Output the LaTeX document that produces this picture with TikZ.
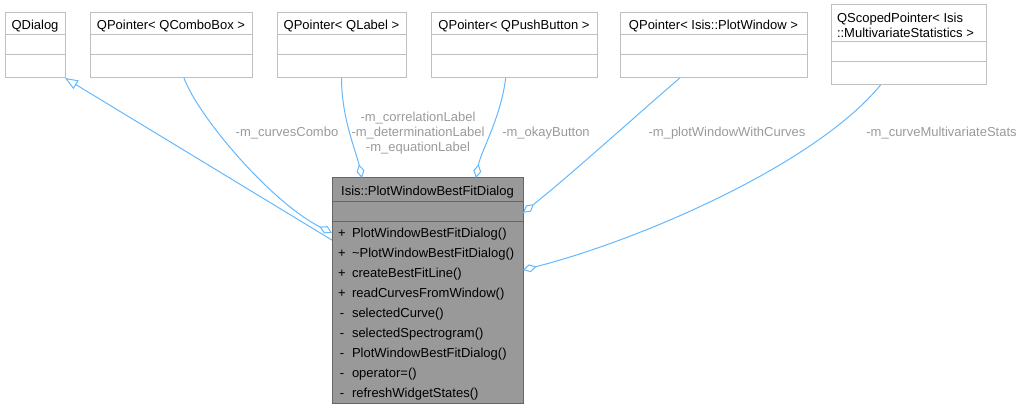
\documentclass[tikz,border=0pt]{standalone}
\usepackage{fontspec}
\setmainfont{Liberation Sans}
\usetikzlibrary{arrows.meta,calc}
\definecolor{edgeblue}{HTML}{63B8FF}
\definecolor{boxgray}{HTML}{BFBFBF}
\definecolor{mainfill}{HTML}{999999}
\definecolor{mainborder}{HTML}{666666}
\definecolor{lblgray}{HTML}{9A9A9A}
\begin{document}
\begin{tikzpicture}[x=1pt,y=-1pt,
  every node/.style={font=\fontsize{13}{15}\selectfont, inner sep=0pt, outer sep=0pt},
  classbox/.style={draw=boxgray, fill=white, line width=1pt, anchor=north west},
  mainbox/.style={draw=mainborder, fill=mainfill, line width=1pt, anchor=north west},
  sepline/.style={draw=boxgray, line width=1pt},
  mainsep/.style={draw=mainborder, line width=1pt},
  txt/.style={anchor=base, text=black},
  ltxt/.style={anchor=base west, text=black},
  lbl/.style={anchor=base, text=lblgray},
  edge/.style={draw=edgeblue, line width=1pt},
  agg/.style={edge, -{Diamond[open, length=14pt, width=8pt]}},
  inh/.style={edge, -{Triangle[open, length=13pt, width=10pt]}}
]
\useasboundingbox (0,0) rectangle (1023,409);

% top classes
\node[classbox, minimum width=60pt, minimum height=65pt] (qdialog) at (5,13) {};
\node[classbox, minimum width=162pt, minimum height=65pt] (qcombo) at (90,13) {};
\node[classbox, minimum width=129pt, minimum height=65pt] (qlabel) at (277,13) {};
\node[classbox, minimum width=166pt, minimum height=65pt] (qpush) at (431,13) {};
\node[classbox, minimum width=187pt, minimum height=65pt] (qplot) at (620,13) {};
\node[classbox, minimum width=155pt, minimum height=80pt] (qscoped) at (831,5) {};

\foreach \a/\b in {5/65, 90/252, 277/406, 431/597, 620/807}{
  \draw[sepline] (\a,35) -- (\b,35);
  \draw[sepline] (\a,55) -- (\b,55);
}
\draw[sepline] (831,42) -- (986,42);
\draw[sepline] (831,62) -- (986,62);

\node[txt] (tqdialog) at (35,30) {QDialog};
\node[txt] (tqcombo) at (171,30) {QPointer< QComboBox >};
\node[txt] (tqlabel) at (341.5,30) {QPointer< QLabel >};
\node[txt] (tqpush) at (514,30) {QPointer< QPushButton >};
\node[txt] (tqplot) at (713.5,30) {QPointer< Isis::PlotWindow >};
\node[ltxt] (tqscoped1) at (837,23) {QScopedPointer< Isis};
\node[ltxt] (tqscoped2) at (837,38) {::MultivariateStatistics >};

% main class
\node[mainbox, minimum width=191pt, minimum height=225pt] (main) at (332,178) {};
\draw[mainsep] (332,201) -- (523,201);
\draw[mainsep] (332,221) -- (523,221);
\node[txt] (tmain) at (427.5,196) {Isis::PlotWindowBestFitDialog};

\foreach \i/\s/\m in {0/+/PlotWindowBestFitDialog(),
                      1/+/\textasciitilde PlotWindowBestFitDialog(),
                      2/+/createBestFitLine(),
                      3/+/readCurvesFromWindow(),
                      4/-/selectedCurve(),
                      5/-/selectedSpectrogram(),
                      6/-/PlotWindowBestFitDialog(),
                      7/-/operator=(),
                      8/-/refreshWidgetStates()}{
  \node[txt] (sg\i) at (342,237+20*\i) {\s};
  \node[ltxt] (mb\i) at (352,237+20*\i) {\m};
}

% connectors
\draw[inh] ($(main.north west)!0.276!(main.south west)$) -- (qdialog.south east);

\draw[agg] ($(qcombo.south west)!0.58!(qcombo.south east)$)
  .. controls +(15,40) and +(-60,-30) .. ($(main.north west)!0.244!(main.south west)$);

\draw[agg] (qlabel.south)
  .. controls +(0,40) and +(-6,-27) .. ($(main.north west)!0.157!(main.north east)$);

\draw[agg] ($(qpush.south west)!0.45!(qpush.south east)$)
  .. controls +(-5,40) and +(5,-27) .. ($(main.north west)!0.754!(main.north east)$);

\draw[agg] ($(qplot.south west)!0.32!(qplot.south east)$)
  .. controls +(-50,43) and +(50,-40) .. ($(main.north east)!0.155!(main.south east)$);

\draw[agg] ($(qscoped.south west)!0.32!(qscoped.south east)$)
  .. controls +(-66,80) and +(117,-30) .. ($(main.north east)!0.409!(main.south east)$);

% labels
\node[lbl] (lcombo) at (287,137) {-m\_curvesCombo};
\node[lbl] (llabel1) at (418,122) {-m\_correlationLabel};
\node[lbl] (llabel2) at (418,137) {-m\_determinationLabel};
\node[lbl] (llabel3) at (418,152) {-m\_equationLabel};
\node[lbl] (lpush) at (546,137) {-m\_okayButton};
\node[lbl] (lplot) at (727,137) {-m\_plotWindowWithCurves};
\node[lbl] (lscoped) at (941.5,137) {-m\_curveMultivariateStats};
\end{tikzpicture}
\end{document}
